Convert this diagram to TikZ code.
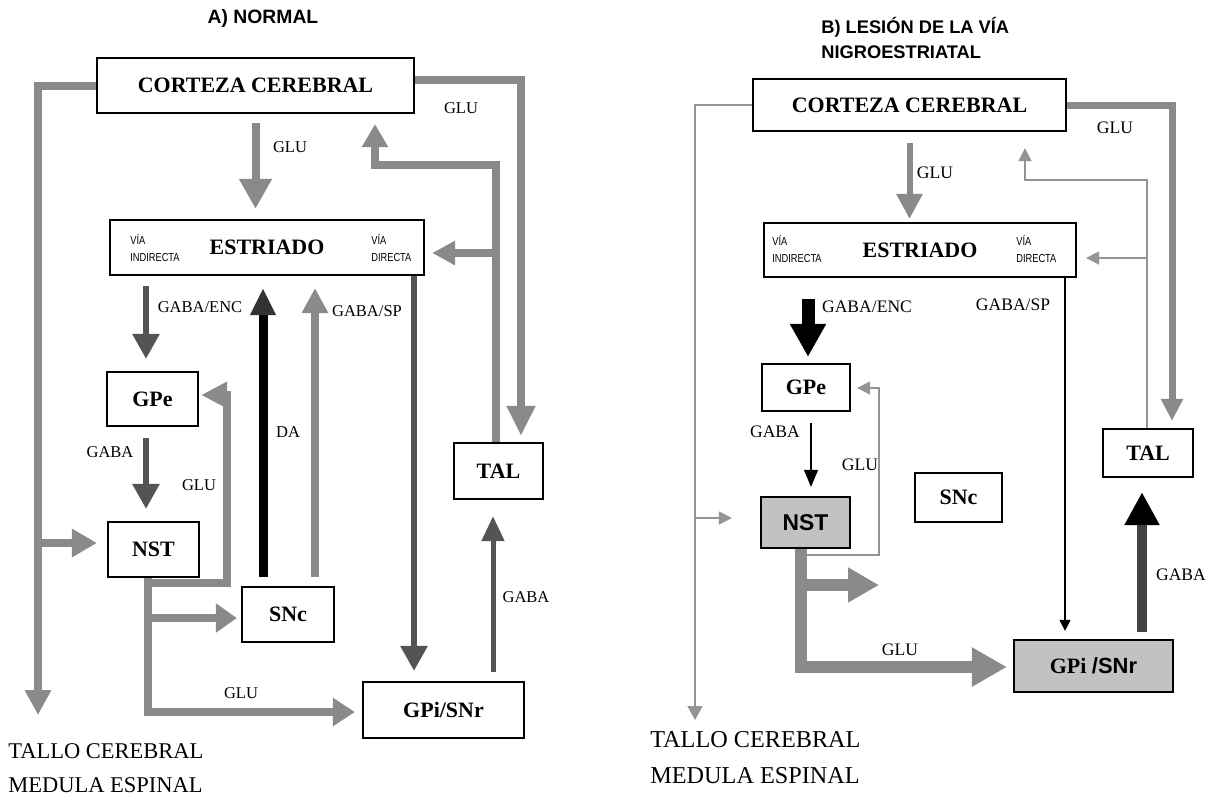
\documentclass[tikz,border=0pt]{standalone}
\usepackage{fontspec}
\usepackage{graphicx}
\setmainfont{Liberation Serif}
\setsansfont{Liberation Sans}
\usetikzlibrary{arrows.meta}
\definecolor{lgray}{gray}{0.54}
\definecolor{dgray}{gray}{0.33}
\definecolor{tgray}{gray}{0.58}
\definecolor{boxfill}{gray}{0.76}
\newcommand{\narrowtxt}[1]{\scalebox{0.8}[1]{#1}}
\begin{document}
\begin{tikzpicture}[x=0.02cm,y=-0.02cm,
  box/.style={draw=black,line width=1.3pt,inner sep=0pt,font=\bfseries\fontsize{12.5}{14}\selectfont},
  lblA/.style={inner sep=0pt,font=\fontsize{9.4}{11}\selectfont},
  lblB/.style={inner sep=0pt,font=\fontsize{10}{12}\selectfont},
  vianode/.style={inner sep=0pt,anchor=west,align=left,font=\sffamily\fontsize{6.6}{9.9}\selectfont},
  ttlA/.style={inner sep=0pt,font=\sffamily\bfseries\fontsize{11}{13}\selectfont},
  ttlB/.style={inner sep=0pt,anchor=west,font=\sffamily\bfseries\fontsize{10.4}{13}\selectfont},
  tallA/.style={inner sep=0pt,anchor=west,font=\fontsize{12.8}{14}\selectfont},
  tallB/.style={inner sep=0pt,anchor=west,font=\fontsize{13.8}{15}\selectfont},
  gL/.style={draw=lgray,line width=0.16cm},
  dA/.style={draw=dgray,line width=0.12cm},
  thinG/.style={draw=tgray,line width=0.03cm},
  thinK/.style={draw=black,line width=0.025cm},
  tipA/.style={-{Triangle[width=0.52cm,length=0.5cm]}},
  tipS/.style={-{Triangle[width=0.26cm,length=0.26cm]}}
]
\fill[white] (0,0) rectangle (1219,796);
\useasboundingbox (0,0) rectangle (1219,796);

% ================= Panel A =================
\node[ttlA] (titA) at (263,18) {A) NORMAL};

\node[box,minimum width=6.34cm,minimum height=1.10cm] (ctxA) at (255.5,85.5) {CORTEZA CEREBRAL};
\node[box,minimum width=6.28cm,minimum height=1.10cm] (estA) at (267,247.5) {ESTRIADO};
\node[box,minimum width=1.82cm,minimum height=1.08cm] (gpeA) at (152.5,399) {GPe};
\node[box,minimum width=1.82cm,minimum height=1.10cm] (nstA) at (153.5,549.5) {NST};
\node[box,minimum width=1.84cm,minimum height=1.10cm] (sncA) at (288,614.5) {SNc};
\node[box,minimum width=3.22cm,minimum height=1.12cm] (gpiA) at (443.5,710) {GPi/SNr};
\node[box,minimum width=1.78cm,minimum height=1.12cm] (talA) at (498.5,471) {TAL};

\node[vianode] (viaA1) at (130,248) {\narrowtxt{VÍA}\\\narrowtxt{INDIRECTA}};
\node[vianode] (viaA2) at (371,248) {\narrowtxt{VÍA}\\\narrowtxt{DIRECTA}};

\coordinate (tallAc) at (38,715);
\coordinate (fbA) at (talA.north -| 496,0);
\coordinate (stemA) at (nstA.south -| 148,0);

\draw[gL,-{Triangle[width=0.5cm,length=0.5cm]}] (ctxA.west) -| (tallAc);
\draw[gL,-{Triangle[width=0.54cm,length=0.5cm]},shorten >=0.2cm] (tallAc |- 0,543) -- (nstA.west |- 0,543);
\draw[gL,-{Triangle[width=0.54cm,length=0.6cm]},shorten >=0.12cm] ([yshift=0.11cm]ctxA.east) -| (talA.north -| 521,0);
\draw[gL,-{Triangle[width=0.5cm,length=0.46cm]},shorten >=0.2cm] (fbA) |- (375,165) -- (ctxA.south -| 375,0);
\draw[gL,-{Triangle[width=0.46cm,length=0.46cm]},shorten >=0.14cm] (fbA |- 0,253) -- (estA.east |- 0,253);
\draw[gL,-{Triangle[width=0.62cm,length=0.6cm]},shorten <=0.18cm,shorten >=0.2cm] (ctxA.south) -- (ctxA.south |- estA.north);
\draw[dA,tipA,shorten <=0.2cm,shorten >=0.24cm] (estA.south -| 146,0) -- (gpeA.north -| 146,0);
\draw[dA,tipA,shorten <=0.22cm,shorten >=0.24cm] (gpeA.south -| 146,0) -- (nstA.north -| 146,0);
\draw[gL,-{Triangle[width=0.5cm,length=0.52cm]},shorten >=0.04cm] (stemA |- 0,583) -| (227,395) -- (gpeA.east |- 0,395);
\draw[gL,-{Triangle[width=0.54cm,length=0.44cm]},shorten >=0.14cm] (stemA) |- (gpiA.west |- 0,712);
\draw[gL,-{Triangle[width=0.56cm,length=0.42cm]},shorten >=0.08cm] (stemA |- 0,618) -- (sncA.west |- 0,618);
\draw[draw=black,line width=0.18cm,-{Triangle[width=0.48cm,length=0.54cm,color=black!80]},shorten <=0.18cm,shorten >=0.24cm] (sncA.north -| 263,0) -- (estA.south -| 263,0);
\draw[gL,-{Triangle[width=0.5cm,length=0.5cm]},shorten <=0.18cm,shorten >=0.24cm] (sncA.north -| 315,0) -- (estA.south -| 315,0);
\draw[dA,tipA,shorten >=0.2cm] (estA.south -| 414,0) -- (gpiA.north -| 414,0);
\draw[dA,line width=0.1cm,-{Triangle[width=0.44cm,length=0.5cm]},shorten <=0.18cm,shorten >=0.32cm] (gpiA.north -| 493,0) -- (talA.south -| 493,0);

\node[lblA] (gluA1) at (461,108) {GLU};
\node[lblA] (gluA2) at (290,147) {GLU};
\node[lblA] (genA) at (200,307) {GABA/ENC};
\node[lblA] (gspA) at (367,311) {GABA/SP};
\node[lblA] (daA) at (288,432) {DA};
\node[lblA] (gabA1) at (110,452) {GABA};
\node[lblA] (gluA3) at (199,485) {GLU};
\node[lblA] (gabA2) at (526,597) {GABA};
\node[lblA] (gluA4) at (241,693) {GLU};
\node[tallA] (tcA) at (8,751) {TALLO CEREBRAL};
\node[tallA] (meA) at (8,785) {MEDULA ESPINAL};

% ================= Panel B =================
\node[ttlB] (titB1) at (821,27) {B) LESIÓN DE LA VÍA};
\node[ttlB] (titB2) at (821,52) {NIGROESTRIATAL};

\node[box,minimum width=6.26cm,minimum height=1.04cm] (ctxB) at (909.5,105) {CORTEZA CEREBRAL};
\node[box,minimum width=6.24cm,minimum height=1.08cm] (estB) at (920,250) {ESTRIADO};
\node[box,minimum width=1.76cm,minimum height=0.94cm] (gpeB) at (806,387.5) {GPe};
\node[box,fill=boxfill,minimum width=1.78cm,minimum height=1.02cm,font=\sffamily\bfseries\fontsize{13}{15}\selectfont] (nstB) at (805.5,522.5) {NST};
\node[box,minimum width=1.74cm,minimum height=0.98cm] (sncB) at (958.5,497.5) {SNc};
\node[box,minimum width=1.80cm,minimum height=0.96cm] (talB) at (1148,453) {TAL};

\node[vianode] (viaB1) at (772,249) {\narrowtxt{VÍA}\\\narrowtxt{INDIRECTA}};
\node[vianode] (viaB2) at (1016,249) {\narrowtxt{VÍA}\\\narrowtxt{DIRECTA}};

\coordinate (tallBc) at (695,720);
\coordinate (fbB) at (talB.north -| 1147,0);

% thin connectors
\draw[thinG,-{Triangle[width=0.3cm,length=0.28cm]}] (ctxB.west) -| (tallBc);
\draw[thinG,tipS,shorten >=0.56cm] (tallBc |- 0,518) -- (nstB.west |- 0,518);
\draw[thinG,tipS,shorten >=0.32cm] (fbB) |- (1025,180) -- (ctxB.south -| 1025,0);
\draw[thinG,tipS,shorten >=0.18cm] (fbB |- 0,258) -- (estB.east |- 0,258);
\node[box,fill=boxfill,minimum width=3.18cm,minimum height=1.04cm] (gpiB) at (1093.5,666) {{\rmfamily GPi} \textsf{/SNr}};
\coordinate (stemB) at (nstB.south -| 801,0);
\draw[thinG,tipS,shorten >=0.12cm] (stemB |- 0,555) -| (879,388) -- (gpeB.east |- 0,388);
\draw[thinK,-{Triangle[width=0.22cm,length=0.22cm]},shorten >=0.16cm] (estB.south -| 1065,0) -- (gpiB.north -| 1065,0);
\draw[thinK,-{Triangle[width=0.28cm,length=0.34cm]},shorten <=0.22cm,shorten >=0.18cm] (gpeB.south -| 811,0) -- (nstB.north -| 811,0);

% thick connectors
\draw[draw=lgray,line width=0.14cm,-{Triangle[width=0.42cm,length=0.44cm]},shorten >=0.14cm] (ctxB.east) -| (talB.north -| 1172,0);
\draw[draw=lgray,line width=0.12cm,-{Triangle[width=0.5cm,length=0.5cm]},shorten <=0.22cm,shorten >=0.06cm] (ctxB.south) -- (ctxB.south |- estB.north);
\draw[draw=black,line width=0.26cm,-{Triangle[width=0.68cm,length=0.66cm]},shorten <=0.42cm,shorten >=0.12cm] (estB.south -| 808,0) -- (gpeB.north -| 808,0);
\draw[draw=lgray,line width=0.24cm,-{Triangle[width=0.74cm,length=0.7cm]},shorten >=0.12cm] (stemB) |- (gpiB.west |- 0,667);
\draw[draw=lgray,line width=0.24cm,-{Triangle[width=0.66cm,length=0.62cm]}] (stemB |- 0,585) -- (879,585);
\draw[draw=dgray!80!black,line width=0.2cm,-{Triangle[width=0.66cm,length=0.66cm,color=black]},shorten <=0.14cm,shorten >=0.28cm] (gpiB.north -| 1142,0) -- (talB.south -| 1142,0);

\node[lblB] (gluB1) at (1115,128) {GLU};
\node[lblB] (gluB2) at (935,173) {GLU};
\node[lblB] (genB) at (867,307) {GABA/ENC};
\node[lblB] (gspB) at (1013,305) {GABA/SP};
\node[lblB] (gabB1) at (775,432) {GABA};
\node[lblB] (gluB3) at (860,465) {GLU};
\node[lblB] (gluB4) at (900,650) {GLU};
\node[lblB] (gabB2) at (1181,575) {GABA};
\node[tallB] (tcB) at (650,740) {TALLO CEREBRAL};
\node[tallB] (meB) at (650,776) {MEDULA ESPINAL};
\end{tikzpicture}
\end{document}
